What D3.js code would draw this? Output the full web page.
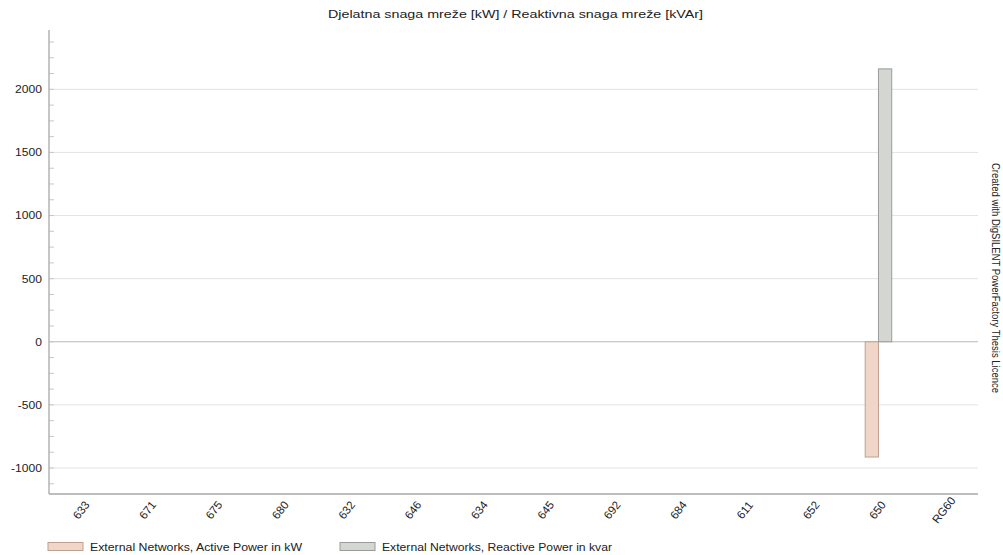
<!DOCTYPE html>
<html><head><meta charset="utf-8">
<script src="https://cdn.jsdelivr.net/npm/d3@7"></script>
<style>body{margin:0;background:#fff}svg{display:block;font-family:"Liberation Sans",Arial,sans-serif}</style>
</head><body>
<svg id="c" width="1003" height="555"></svg>
<script>
const categories = ["633","671","675","680","632","646","634","645","692","684","611","652","650","RG60"];
const activePower = [0,0,0,0,0,0,0,0,0,0,0,0,-913,0];
const reactivePower = [0,0,0,0,0,0,0,0,0,0,0,0,2162,0];
const majorTicks = [-1000,-500,0,500,1000,1500,2000];
const seriesNames = ["External Networks, Active Power in kW","External Networks, Reactive Power in kvar"];
const title = "Djelatna snaga mreže [kW] / Reaktivna snaga mreže [kVAr]";
const sideNote = "Created with DigSILENT PowerFactory Thesis Licence";

const svg = d3.select("#c");
const L = 49, R = 978, T = 30, B = 494;
const x = d3.scaleBand().domain(categories).range([L, R]).padding(0);
const y = d3.scaleLinear().domain([-1206, 2470]).range([B, T]);
const colors = [{fill:"#efd6c8", stroke:"#bf9f90"}, {fill:"#d3d6d1", stroke:"#999c98"}];

function stretch(sel, f) {
  sel.each(function() {
    const w = this.getComputedTextLength();
    d3.select(this).attr("textLength", w * f).attr("lengthAdjust", "spacingAndGlyphs");
  });
}

// grid
svg.append("g").selectAll("line").data(majorTicks).join("line")
  .attr("x1", L).attr("x2", R).attr("y1", d => y(d)).attr("y2", d => y(d))
  .attr("stroke", d => d === 0 ? "#b8b8b8" : "#e3e3e3").attr("stroke-width", 1);

// minor ticks
const minor = d3.range(-1125, 2470, 125);
svg.append("g").selectAll("line").data(minor).join("line")
  .attr("x1", L).attr("x2", L + 5).attr("y1", d => y(d)).attr("y2", d => y(d))
  .attr("stroke", "#c8c8c8");

// bars
const bw = x.bandwidth() * 0.2;
const series = [activePower, reactivePower];
series.forEach((vals, si) => {
  svg.append("g").selectAll("rect").data(vals.map((v, i) => ({v, c: categories[i]}))).join("rect")
    .attr("x", d => x(d.c) + x.bandwidth() / 2 - bw + si * bw)
    .attr("width", bw)
    .attr("y", d => y(Math.max(0, d.v)))
    .attr("height", d => Math.abs(y(d.v) - y(0)))
    .attr("fill", colors[si].fill)
    .attr("stroke", d => d.v === 0 ? colors[si].fill : colors[si].stroke)
    .attr("stroke-width", 1);
});

// axes lines
svg.append("line").attr("x1", L).attr("x2", L).attr("y1", T).attr("y2", B).attr("stroke", "#a8a8a8").attr("stroke-width", 1.3);
svg.append("line").attr("x1", L).attr("x2", R).attr("y1", B).attr("y2", B).attr("stroke", "#a8a8a8").attr("stroke-width", 1.3);

// y labels
svg.append("g").selectAll("text").data(majorTicks).join("text")
  .attr("x", 42).attr("y", d => y(d)).attr("dy", "0.35em")
  .attr("text-anchor", "end").attr("font-size", 11).attr("fill", "#222")
  .text(d => d).call(stretch, 1.1);

// x labels
svg.append("g").selectAll("text").data(categories).join("text")
  .attr("transform", d => `translate(${x(d) + x.bandwidth() / 2 - 1},${510}) rotate(-52)`)
  .attr("text-anchor", "middle").attr("dy", "0.35em")
  .attr("font-size", 11.5).attr("fill", "#222")
  .text(d => d);

// title
svg.append("text").attr("x", 515.5).attr("y", 18).attr("text-anchor", "middle")
  .attr("font-size", 11.5).attr("fill", "#222").attr("textLength", 375).attr("lengthAdjust", "spacingAndGlyphs").text(title);

// side text
svg.append("text").attr("transform", "translate(992,278) rotate(90)")
  .attr("text-anchor", "middle").attr("font-size", 10.5).attr("fill", "#222")
  .attr("textLength", 230).attr("lengthAdjust", "spacingAndGlyphs")
  .text(sideNote);

// legend
const lx = [48, 340];
const lw = [212, 230];
seriesNames.forEach((n, i) => {
  svg.append("rect").attr("x", lx[i]).attr("y", 542.5).attr("width", 35).attr("height", 8)
    .attr("fill", colors[i].fill).attr("stroke", colors[i].stroke);
  svg.append("text").attr("x", lx[i] + 42).attr("y", 551)
    .attr("font-size", 11.5).attr("fill", "#222")
    .attr("textLength", lw[i]).attr("lengthAdjust", "spacingAndGlyphs").text(n);
});
</script>
</body></html>
